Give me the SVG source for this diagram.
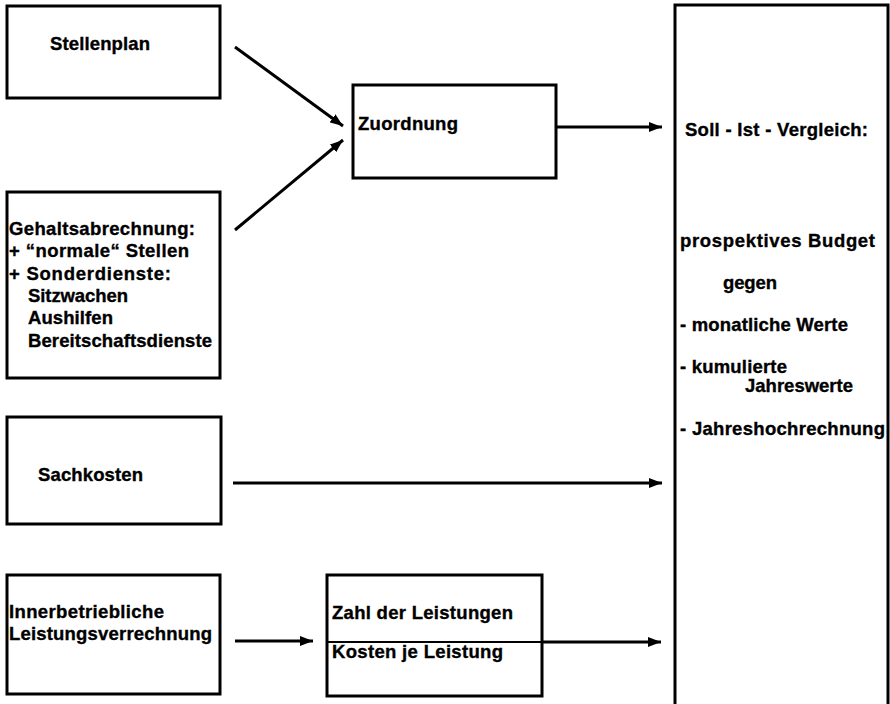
<svg xmlns="http://www.w3.org/2000/svg" width="890" height="704" viewBox="0 0 890 704">
  <style>
    .box { fill: #fff; stroke: #000; stroke-width: 3; }
    .thin { fill: none; stroke: #000; stroke-width: 2; }
    .edge { fill: none; stroke: #000; stroke-width: 3; marker-end: url(#head); }
    text { font-family: "Liberation Sans", Arial, sans-serif; font-weight: bold; font-size: 18.5px; fill: #000; stroke: #000; stroke-width: 0.35; }
  </style>
  <defs>
    <marker id="head" viewBox="0 0 13 10" refX="13" refY="5" markerWidth="13" markerHeight="10" markerUnits="userSpaceOnUse" orient="auto">
      <path d="M0,0 L13,5 L0,10 z" fill="#000"/>
    </marker>
  </defs>

  <rect width="890" height="704" fill="#fff"/>

  <g id="stellenplan">
    <rect class="box" x="7" y="6" width="213" height="92"/>
    <text x="50" y="50" textLength="100" lengthAdjust="spacing">Stellenplan</text>
  </g>

  <g id="gehaltsabrechnung">
    <rect class="box" x="7" y="192" width="213" height="186"/>
    <text x="9" y="235" textLength="186" lengthAdjust="spacing">Gehaltsabrechnung:</text>
    <text x="9" y="257" textLength="180" lengthAdjust="spacing">+ “normale“ Stellen</text>
    <text x="9" y="280" textLength="162" lengthAdjust="spacing">+ Sonderdienste:</text>
    <text x="28" y="302" textLength="100" lengthAdjust="spacing">Sitzwachen</text>
    <text x="28" y="324" textLength="85" lengthAdjust="spacing">Aushilfen</text>
    <text x="28" y="347" textLength="184" lengthAdjust="spacing">Bereitschaftsdienste</text>
  </g>

  <g id="zuordnung">
    <rect class="box" x="353" y="85" width="203" height="93"/>
    <text x="358" y="130" textLength="100" lengthAdjust="spacing">Zuordnung</text>
  </g>

  <g id="sachkosten">
    <rect class="box" x="7" y="417" width="214" height="107"/>
    <text x="38" y="481" textLength="105" lengthAdjust="spacing">Sachkosten</text>
  </g>

  <g id="leistungsverrechnung">
    <rect class="box" x="7" y="575" width="213" height="119"/>
    <text x="9" y="618" textLength="155" lengthAdjust="spacing">Innerbetriebliche</text>
    <text x="9" y="640" textLength="203" lengthAdjust="spacing">Leistungsverrechnung</text>
  </g>

  <g id="leistungen">
    <rect class="box" x="327" y="575" width="215" height="121"/>
    <line class="thin" x1="327" y1="642" x2="542" y2="642"/>
    <text x="332" y="619" textLength="181" lengthAdjust="spacing">Zahl der Leistungen</text>
    <text x="332" y="658" textLength="171" lengthAdjust="spacing">Kosten je Leistung</text>
  </g>

  <g id="vergleich">
    <rect class="box" x="675" y="5" width="213" height="710"/>
    <text x="685" y="136" textLength="183" lengthAdjust="spacing">Soll - Ist - Vergleich:</text>
    <text x="680" y="247" textLength="195" lengthAdjust="spacing">prospektives Budget</text>
    <text x="723" y="289" textLength="54" lengthAdjust="spacing">gegen</text>
    <text x="680" y="331" textLength="168" lengthAdjust="spacing">- monatliche Werte</text>
    <text x="680" y="373" textLength="107" lengthAdjust="spacing">- kumulierte</text>
    <text x="745" y="392" textLength="108" lengthAdjust="spacing">Jahreswerte</text>
    <text x="680" y="435" textLength="205" lengthAdjust="spacing">- Jahreshochrechnung</text>
  </g>

  <g id="connectors">
    <line class="edge" x1="235" y1="47" x2="343" y2="126"/>
    <line class="edge" x1="235" y1="230" x2="343" y2="140"/>
    <line class="edge" x1="556" y1="127" x2="662" y2="127"/>
    <line class="edge" x1="233" y1="483" x2="662" y2="483"/>
    <line class="edge" x1="235" y1="641" x2="313" y2="641"/>
    <line class="edge" x1="542" y1="642" x2="661" y2="642"/>
  </g>
</svg>
